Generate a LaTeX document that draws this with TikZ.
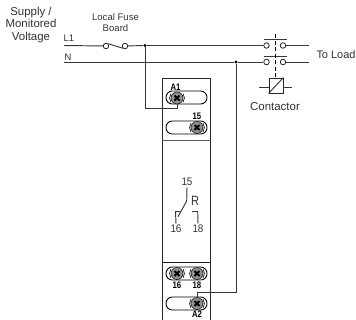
\documentclass[tikz,border=0pt]{standalone}
\usepackage{fontspec}
\setmainfont{Liberation Sans}
\definecolor{wire}{HTML}{383838}
\definecolor{screwg}{HTML}{909090}
\tikzset{
  wireline/.style={draw=wire,line width=0.95pt},
  term/.style={circle,draw=black!85,line width=0.8pt,fill=white,minimum size=5.5bp,inner sep=0pt},
  lbl/.style={inner sep=0pt,text=black!80,align=center,font=\fontsize{#1}{#1}\selectfont},
  tlbl/.style={inner sep=0pt,text=black,font=\fontsize{9.5}{9.5}\selectfont\bfseries},
  slot/.style={draw=black,line width=0.9pt,rounded corners=6.4bp,fill=white},
  dot/.style={circle,fill=black,minimum size=3.2bp,inner sep=0pt},
  screw/.style={circle,draw=black,line width=0.5pt,fill=screwg,minimum size=12bp,inner sep=0pt,
    path picture={\draw[black,line width=2pt] (path picture bounding box.center) ++(-2.5bp,2.5bp) -- ++(5bp,-5bp);
                  \draw[black,line width=2pt] (path picture bounding box.center) ++(-2.5bp,-2.5bp) -- ++(5bp,5bp);}},
}
\newcommand{\screwat}[3]{%
  \node[screw] (#1) at (#2,#3) {};
  \draw[black,line width=0.6pt] (#2-6.1,#3+4.3) arc[start angle=145,end angle=215,radius=7.5];
  \draw[black,line width=0.6pt] (#2+6.1,#3+4.3) arc[start angle=35,end angle=-35,radius=7.5];
}
\newcommand{\nrw}[1]{\scalebox{.82}[1]{#1}}
\newcommand{\nrx}[1]{\scalebox{.9}[1]{#1}}
\begin{document}
\begin{tikzpicture}[x=1bp,y=-1bp]
\useasboundingbox[fill=white] (0,0) rectangle (356,320);
% module
\draw[line width=1pt,draw=black!85] (162,320) -- (162,78) -- (210.5,78) -- (210.5,320);
\draw[draw=black!65,line width=0.9pt] (162,140) -- (210.5,140);
\draw[draw=black!90,line width=0.9pt] (162,262) -- (210.5,262);
% slots
\draw[slot] (166,91) rectangle (207,104);
\draw[slot] (166,121) rectangle (207,134);
\draw[slot] (166,267) rectangle (207,280);
\draw[slot] (166,297) rectangle (207,310);
\screwat{a1}{177}{98}
\screwat{t15}{197}{127.5}
\screwat{t16}{177}{273.5}
\screwat{t18}{197}{273.5}
\screwat{a2}{197}{303.5}
\node[tlbl] (la1) at (175.5,87) {\nrw{A1}};
\node[tlbl] (l15) at (197,116.5) {\nrw{15}};
\node[tlbl] (l16) at (177,285) {\nrw{16}};
\node[tlbl] (l18) at (197,285) {\nrw{18}};
\node[tlbl] (la2) at (197,314.5) {\nrw{A2}};
% texts
\node[lbl=11.5] (sup) at (31,25) {Supply /\\[1.5pt]Monitored\\[1.5pt]Voltage};
\node[lbl=9.6] (fuse) at (115.5,22.5) {Local Fuse\\[2pt]Board};
\node[lbl=9.5] (ll1) at (69,38.5) {L1};
\node[lbl=9.5] (ln) at (68,57.5) {N};
\node[lbl=11] (load) at (336,55) {To Load};
\node[lbl=11.5] (con) at (275,107) {Contactor};
% nets
\coordinate (l1s) at (64,45.5);
\coordinate (ns) at (64,62);
\node[term] (f1) at (106,46) {};
\node[term] (f2) at (125,46) {};
\node[term] (c1) at (266.5,45.5) {};
\node[term] (c2) at (283,45.5) {};
\node[term] (c3) at (266.5,62) {};
\node[term] (c4) at (283,62) {};
\coordinate (l1e) at (308.5,45.5);
\coordinate (ne) at (308.5,62);
\node[dot] (j1) at (145,45.5) {};
\node[dot] (j2) at (236,62) {};
\draw[wireline] (l1s) -- (f1);
\draw[wireline] (f1.north east) -- (f2.south west);
\draw[wireline] (f2) -- (j1) -- (c1);
\draw[wireline] (c2) -- (l1e);
\draw[wireline] (ns) -- (j2) -- (c3);
\draw[wireline] (c4) -- (ne);
\draw[wireline] (j1) -- (145,108) -| (a1.south);
\draw[wireline] (j2) -- (236,292) -| (a2.north);
% contactor
\coordinate (b1l) at (264,39.5); \coordinate (b1r) at (287,39.5);
\coordinate (b2l) at (264,56); \coordinate (b2r) at (287,56);
\draw[wireline] (b1l) -- (b1r);
\draw[wireline] (b2l) -- (b2r);
\node[draw=black!85,line width=0.9pt,minimum width=14bp,minimum height=15bp,inner sep=0pt] (coil) at (276,85.5) {};
\coordinate (dt) at (275.5,34);
\draw[draw=black,line width=0.9pt,dash pattern=on 4bp off 2.5bp] (dt) -- (coil.north -| dt);
\draw[wireline] (coil.south west) -- (coil.north east);
\coordinate (cl) at (259,87); \coordinate (cr) at (291.5,87);
\draw[wireline] (cl) -- (coil.west |- cl);
\draw[wireline] (coil.east |- cr) -- (cr);
% relay symbol
\node[lbl=11,outer sep=1.5bp] (r15) at (187,182) {\nrx{15}};
\node[lbl=13.5] (rr) at (195,200.5) {\nrw{R}};
\node[lbl=11,outer sep=1.5bp] (r16) at (176,229) {\nrx{16}};
\node[lbl=11,outer sep=1.5bp] (r18) at (198,229) {\nrx{18}};
\coordinate (piv) at (186.7,201);
\draw[wireline] (r15.south) -- (piv) -- (178,216.7);
\draw[wireline] (r16.north) -- (175.5,211.5) -- (180.5,211.5);
\draw[wireline] (r18.north) -- (197.7,211.5) -- (192,211.5);
\end{tikzpicture}
\end{document}
